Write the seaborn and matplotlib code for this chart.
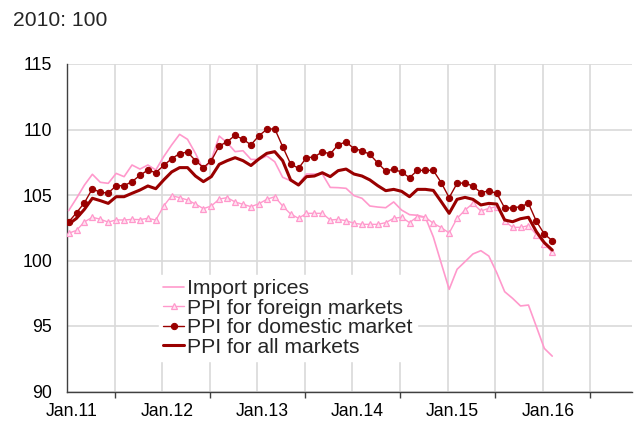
import matplotlib
matplotlib.use("Agg")
import matplotlib.pyplot as plt
import matplotlib.transforms as mtransforms
import seaborn as sns

# month index 0 = Jan 2011 ... 61 = Feb 2016
months = list(range(62))

import_prices = [103.8, 104.75, 105.76, 106.58, 105.97, 105.89, 106.65, 106.40, 107.29, 106.98,
                 107.29, 106.91, 107.93, 108.82, 109.63, 109.25, 108.18, 106.91, 107.67, 109.50,
                 108.99, 108.31, 108.38, 107.72, 107.70, 107.98, 107.54, 106.35, 106.09, 105.84,
                 106.60, 106.60, 106.60, 105.58, 105.56, 105.51, 104.95, 104.75, 104.16, 104.08,
                 104.03, 104.47, 103.85, 103.50, 103.45, 103.30, 101.80, 99.79, 97.80, 99.33,
                 99.91, 100.50, 100.75, 100.34, 99.07, 97.62, 97.11, 96.53, 96.60, 94.95,
                 93.29, 92.70]

ppi_foreign = [102.08, 102.30, 102.95, 103.30, 103.15, 102.93, 103.10, 103.09, 103.14, 103.12,
               103.22, 103.09, 104.16, 104.95, 104.80, 104.62, 104.31, 103.96, 104.16, 104.69,
               104.80, 104.47, 104.29, 104.11, 104.33, 104.67, 104.87, 104.16, 103.55, 103.22,
               103.60, 103.60, 103.60, 103.09, 103.14, 103.04, 102.84, 102.76, 102.76, 102.76,
               102.89, 103.22, 103.30, 102.89, 103.35, 103.30, 102.84, 102.51, 102.10, 103.22,
               103.85, 104.36, 103.78, 103.98, 104.11, 103.02, 102.53, 102.53, 102.66, 101.98,
               101.26, 100.62]

ppi_domestic = [102.93, 103.65, 104.41, 105.48, 105.20, 105.15, 105.71, 105.71, 106.02, 106.50,
                106.91, 106.70, 107.26, 107.77, 108.16, 108.28, 107.62, 107.09, 107.62, 108.74,
                109.07, 109.55, 109.25, 108.83, 109.52, 110.01, 110.06, 108.69, 107.37, 107.04,
                107.85, 107.90, 108.31, 108.13, 108.84, 109.05, 108.54, 108.38, 108.10, 107.44,
                106.83, 106.96, 106.75, 106.32, 106.88, 106.88, 106.88, 105.94, 104.80, 105.89,
                105.92, 105.67, 105.19, 105.31, 105.13, 104.01, 104.01, 104.11, 104.36, 102.99,
                102.02, 101.51]

ppi_all = [102.77, 103.22, 103.91, 104.75, 104.57, 104.36, 104.87, 104.87, 105.13, 105.38,
           105.69, 105.48, 106.15, 106.76, 107.09, 107.09, 106.45, 106.02, 106.40, 107.34,
           107.62, 107.85, 107.62, 107.25, 107.75, 108.18, 108.31, 107.62, 106.15, 105.76,
           106.40, 106.45, 106.70, 106.40, 106.86, 106.98, 106.60, 106.45, 106.15, 105.71,
           105.33, 105.43, 105.28, 104.87, 105.43, 105.43, 105.35, 104.49, 103.60, 104.67,
           104.82, 104.67, 104.24, 104.36, 104.31, 103.09, 102.96, 103.19, 103.30, 102.20,
           101.36, 100.80]

series_names = ["Import prices", "PPI for foreign markets", "PPI for domestic market", "PPI for all markets"]
year_labels = ["Jan.11", "Jan.12", "Jan.13", "Jan.14", "Jan.15", "Jan.16"]
y_ticks = [90, 95, 100, 105, 110, 115]
subtitle = "2010: 100"

sns.set_theme(style="white")
plt.rcParams['font.family'] = ['Liberation Sans', 'DejaVu Sans']

PINK = "#FF99CC"
DARK = "#990000"

W, H = 641, 421
fig = plt.figure(figsize=(W / 100, H / 100), dpi=100)
left, right, top, bottom = 67, 632, 64, 391.5
ax = fig.add_axes([left / W, 1 - bottom / H, (right - left) / W, (bottom - top) / H])

sns.lineplot(x=months, y=import_prices, ax=ax, color=PINK, linewidth=1.2,
             label=series_names[0], zorder=3)
sns.lineplot(x=months, y=ppi_foreign, ax=ax, color=PINK, linewidth=1.0,
             marker="^", markersize=4.5, markerfacecolor="#FFE3F1",
             markeredgecolor=PINK, markeredgewidth=0.9, label=series_names[1], zorder=4)
sns.lineplot(x=months, y=ppi_domestic, ax=ax, color=DARK, linewidth=1.0,
             marker="o", markersize=4.5, markerfacecolor=DARK, markeredgecolor=DARK,
             label=series_names[2], zorder=5)
sns.lineplot(x=months, y=ppi_all, ax=ax, color=DARK, linewidth=2.2,
             label=series_names[3], zorder=6)

ax.set_xlim(-0.2, 71.06)
ax.set_ylim(90, 115)
ax.set_yticks(y_ticks)
ax.set_yticklabels([str(v) for v in y_ticks])
major = [12 * k - 0.2 for k in range(len(year_labels))]
minor = [12 * k + 5.8 for k in range(len(year_labels))]
ax.set_xticks(major)
ax.set_xticklabels(year_labels)
ax.set_xticks(minor, minor=True)
ax.set_xlabel("")
ax.set_ylabel("")

ax.grid(True, which="both", axis="x", color="#D9D9D9", linewidth=1.2, zorder=0)
ax.grid(True, which="major", axis="y", color="#D9D9D9", linewidth=1.2, zorder=0)
ax.set_axisbelow(True)

for s in ["top", "right"]:
    ax.spines[s].set_visible(False)
for s in ["left", "bottom"]:
    ax.spines[s].set_color("#404040")
    ax.spines[s].set_linewidth(1.0)

ax.tick_params(axis="both", which="both", direction="out", color="#404040",
               width=1.0, labelsize=12.7, labelcolor="black")
ax.tick_params(axis="y", length=3.2, pad=7.5)
ax.tick_params(axis="x", which="both", length=4, pad=4)
ax.tick_params(axis="x", which="minor", bottom=True)

offset = mtransforms.ScaledTranslation(0.05, 0, fig.dpi_scale_trans)
for lbl in ax.get_xticklabels():
    lbl.set_transform(lbl.get_transform() + offset)

leg = ax.legend(loc="center left", bbox_to_anchor=(159 / W, 1 - 318 / H),
                bbox_transform=fig.transFigure, frameon=True, fontsize=15.2,
                handlelength=1.0, handletextpad=0.12, labelspacing=0.02,
                borderpad=0.2, borderaxespad=0, fancybox=False, framealpha=1.0)
leg.get_frame().set_facecolor("white")
leg.get_frame().set_edgecolor("white")
leg.set_zorder(10)

fig.text(13 / W, 1 - 21 / H, subtitle, fontsize=15.2, va="center", ha="left")

fig.savefig("out.png", dpi=100)
